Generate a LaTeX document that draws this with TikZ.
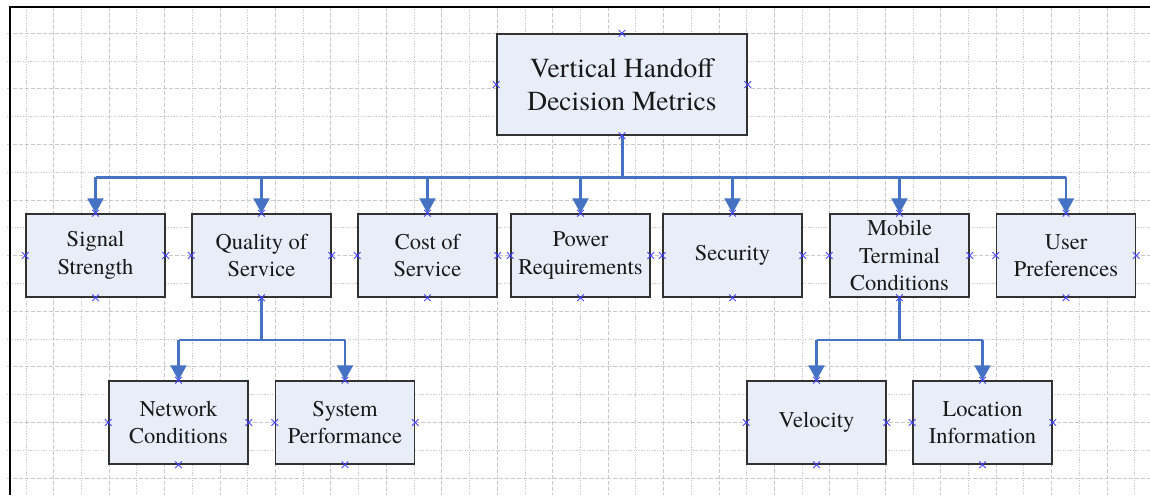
\documentclass[tikz,border=0pt]{standalone}
\usepackage{fontspec}
\setmainfont{TeX Gyre Termes}
\usetikzlibrary{arrows.meta}
\definecolor{linkblue}{RGB}{70,114,196}
\definecolor{boxfill}{RGB}{232,237,248}
\definecolor{boxline}{RGB}{50,50,50}
\definecolor{mkblue}{RGB}{70,70,255}
\definecolor{gridgray}{RGB}{200,200,200}
\definecolor{txt}{RGB}{25,25,25}
\tikzset{
  metric/.style={draw=boxline, line width=1.4pt, fill=boxfill, text=txt,
    minimum width=139pt, minimum height=83pt, inner sep=0pt, align=center,
    font=\rmfamily\fontsize{22.5}{27.5}\selectfont},
  rootbox/.style={metric, minimum width=250pt, minimum height=101pt,
    font=\rmfamily\fontsize{27.5}{33}\selectfont},
  trunk/.style={draw=linkblue, line width=3pt},
  drop/.style={draw=linkblue, line width=2.2pt, -{Triangle[length=15pt,width=16pt]}},
  subtrunk/.style={draw=linkblue, line width=2.2pt},
  mk/.style={draw=mkblue, line width=0.9pt},
  gridA/.style={draw=gridgray, line width=0.9pt, dash pattern=on 1.2pt off 1.4pt},
  gridB/.style={draw=gridgray, line width=0.9pt, dash pattern=on 4pt off 2pt},
  frame/.style={draw=black, line width=2pt}
}
\begin{document}
\begin{tikzpicture}[x=1pt,y=-1pt]
\useasboundingbox[fill=white] (0,0) rectangle (1150,495);
% grid
\begin{scope}
\clip (7,7) rectangle (1150,495);
\foreach \k in {0,...,41}{
  \pgfmathsetmacro{\xx}{26+27.72*\k}
  \ifodd\k \draw[gridB] (\xx,7) -- (\xx,495); \else \draw[gridA] (\xx,7) -- (\xx,495); \fi
}
\foreach \k in {-1,...,17}{
  \pgfmathsetmacro{\yy}{33.3+27.8*\k}
  \ifodd\k \draw[gridA] (7,\yy) -- (1150,\yy); \else \draw[gridB] (7,\yy) -- (1150,\yy); \fi
}
\end{scope}
% frame
\draw[frame] (9.5,495) -- (9.5,7) -- (1150,7);

% nodes
\node[rootbox] (root) at (622,84.5) {Vertical Handoff\\Decision Metrics};
\node[metric] (sig) at (95.5,255.5) {Signal\\Strength};
\node[metric] (qos) at (261.5,255.5) {Quality of\\Service};
\node[metric] (cost) at (427.5,255.5) {Cost of\\Service};
\node[metric] (pow) at (580.5,255.5) {Power\\Requirements};
\node[metric] (sec) at (732.5,255.5) {Security};
\node[metric] (mob) at (899.5,255.5) {Mobile\\Terminal\\Conditions};
\node[metric] (usr) at (1066,255.5) {User\\Preferences};
\node[metric] (net) at (178.5,422.5) {Network\\Conditions};
\node[metric] (sys) at (345,422.5) {System\\Performance};
\node[metric] (vel) at (816.5,422.5) {Velocity};
\node[metric] (loc) at (982.5,422.5) {Location\\Information};

% main bus
\coordinate (bus) at (0,177);
\draw[trunk] (root.south) -- (root.south |- bus);
\draw[trunk] (sig.north |- bus) -- (usr.north |- bus);
\foreach \n in {sig,qos,cost,pow,sec,mob,usr}{
  \draw[drop] (\n.north |- bus) -- (\n.north);
}
% sub buses
\coordinate (sbus) at (0,340);
\foreach \p/\a/\b in {qos/net/sys, mob/vel/loc}{
  \draw[subtrunk] (\p.south) -- (\p.south |- sbus);
  \draw[subtrunk] (\a.north |- sbus) -- (\b.north |- sbus);
  \draw[drop] (\a.north |- sbus) -- (\a.north);
  \draw[drop] (\b.north |- sbus) -- (\b.north);
}

% connection markers
\foreach \n in {root,sig,qos,cost,pow,sec,mob,usr,net,sys,vel,loc}{
  \foreach \a in {north,south,east,west}{
    \draw[mk] (\n.\a) +(-3.3,-3.3) -- +(3.3,3.3) +(-3.3,3.3) -- +(3.3,-3.3);
  }
}
\end{tikzpicture}
\end{document}
